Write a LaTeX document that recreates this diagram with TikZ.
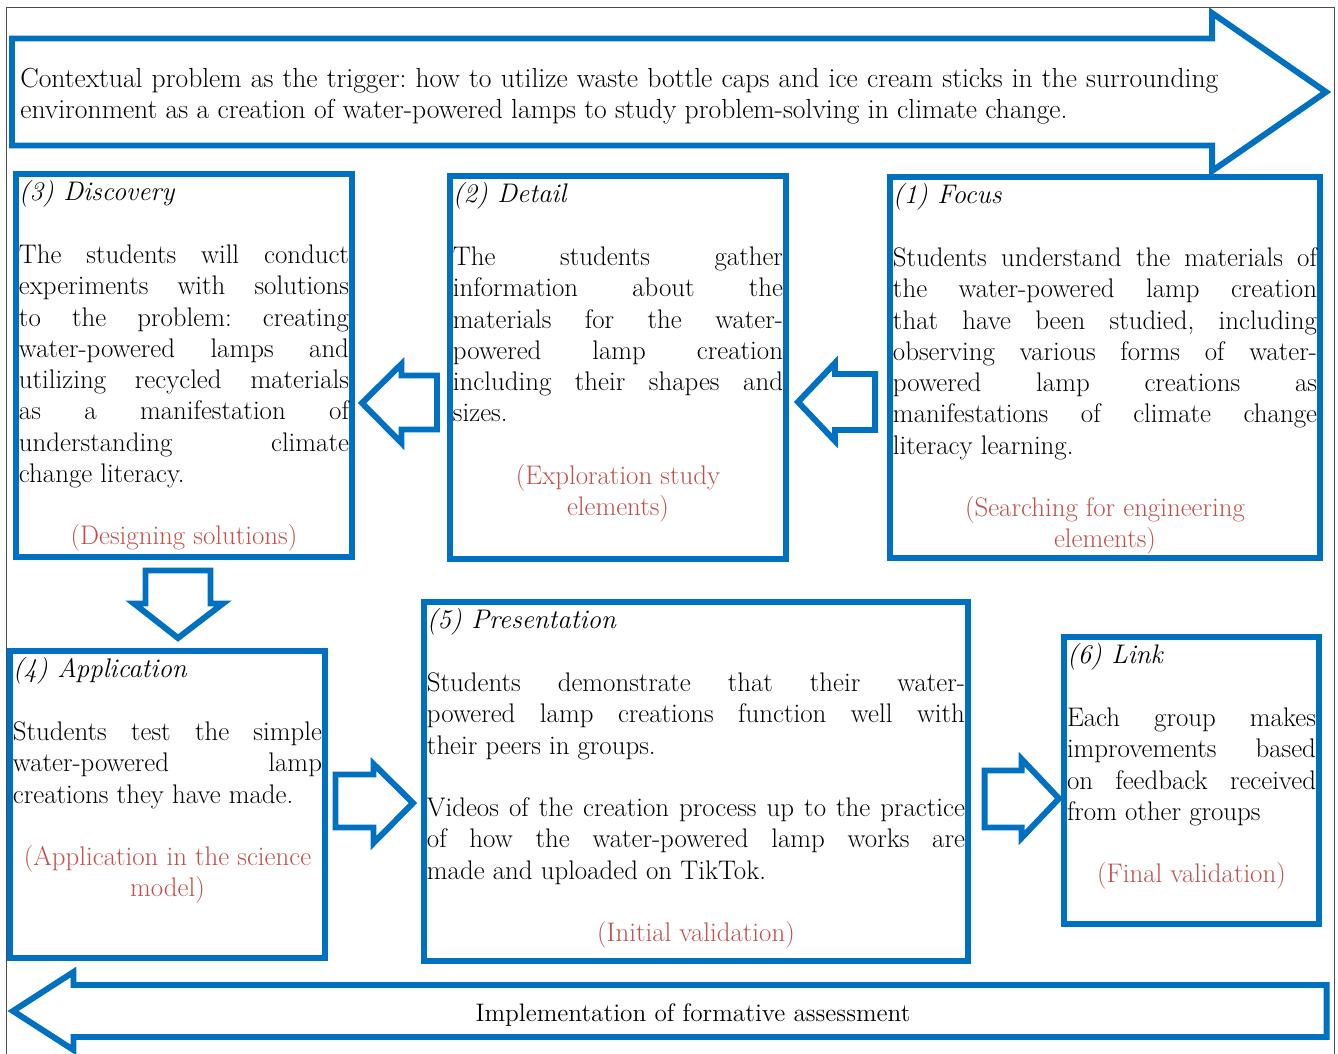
\documentclass[tikz,border=0pt]{standalone}
\usepackage{tikz}
\usetikzlibrary{shapes}
\usepackage{xcolor}

\definecolor{boxblue}{RGB}{0,112,192}
\definecolor{labelred}{RGB}{192,80,77}

\newlength{\px}
\setlength{\px}{0.02cm}
\frenchspacing

% width, height, title, body, label
\newcommand{\stagetext}[5]{%
	\parbox[t][#2\px][t]{#1\px}{\fontsize{15.3}{17.8}\selectfont
		\rule{0pt}{24\px}\textit{#3}\par\vspace{\baselineskip}
		#4\par\vspace{\baselineskip}
		{\centering\color{labelred}#5\par}}}

\tikzset{
	stage/.style = {draw = boxblue,
					line width = 3.4pt,
					inner sep = 1.7pt,
					outer sep = 0pt,
					anchor = north west},
	blockarrow/.style = {draw = boxblue,
						 fill = white,
						 line width = 3.4pt,
						 line join = miter}
}

\begin{document}
\begin{tikzpicture}[x = 0.02cm, y = -0.02cm]
	\useasboundingbox (0,0) rectangle (1338,1054);
	\draw[gray!60!black, line width = 0.5pt] (6,1054) -- (6,7) -- (1334,7) -- (1334,1054);

	% trigger arrow
	\draw[blockarrow] (12,38.5) -- (1212,38.5) -- (1212,13) -- (1326,92) -- (1212,171) -- (1212,145.5) -- (12,145.5) -- cycle;
	\draw (20,88) node[anchor = base west, inner sep = 0pt](trigger) {\parbox[t]{1198\px}{\fontsize{15.7}{17.1}\selectfont
		Contextual problem as the trigger: how to utilize waste bottle caps and ice cream sticks in the surrounding\linebreak
		environment as a creation of water-powered lamps to study problem-solving in climate change.}};

	% stages
	\draw (890,177) node[stage](focus) {\stagetext{424}{375}{(1) Focus}
		{Students understand the materials of\linebreak the water-powered lamp creation\linebreak that have been studied, including\linebreak observing various forms of water-\linebreak powered lamp creations as\linebreak manifestations of climate change\linebreak literacy learning.}
		{(Searching for engineering\\ elements)}};
	\draw (450,176) node[stage](detail) {\stagetext{330}{377}{(2) Detail}
		{The students gather\linebreak information about the\linebreak materials for the water-\linebreak powered lamp creation\linebreak including their shapes and\linebreak sizes.}
		{(Exploration study\\ elements)}};
	\draw (16,174) node[stage](discovery) {\stagetext{330}{377}{(3) Discovery}
		{The students will conduct\linebreak experiments with solutions\linebreak to the problem: creating\linebreak water-powered lamps and\linebreak utilizing recycled materials\linebreak as a manifestation of\linebreak understanding climate\linebreak change literacy.}
		{(Designing solutions)}};
	\draw (10,651) node[stage](application) {\stagetext{309}{301}{(4) Application}
		{Students test the simple\linebreak water-powered lamp\linebreak creations they have made.}
		{(Application in the science\\ model)}};
	\draw (424,602) node[stage](presentation) {\stagetext{538}{353}{(5) Presentation}
		{Students demonstrate that their water-\linebreak powered lamp creations function well with\linebreak their peers in groups.\par\vspace{\baselineskip}
		 Videos of the creation process up to the practice\linebreak of how the water-powered lamp works are\linebreak made and uploaded on TikTok.}
		{(Initial validation)}};
	\draw (1064,637) node[stage](link) {\stagetext{249}{281}{(6) Link}
		{Each group makes\linebreak improvements based\linebreak on feedback received\linebreak from other groups}
		{(Final validation)}};

	% flow arrows
	\draw[blockarrow] (875,374) -- (835,374) -- (835,363) -- (798,402) -- (835,441) -- (835,430) -- (875,430) -- cycle;
	\draw[blockarrow] (437,375.5) -- (401.5,375.5) -- (401.5,364) -- (362,403) -- (401.5,443) -- (401.5,429.5) -- (437,429.5) -- cycle;
	\draw[blockarrow] (145.5,570.5) -- (210.5,570.5) -- (210.5,603.5) -- (223,603.5) -- (178,638) -- (134,603.5) -- (145.5,603.5) -- cycle;
	\draw[blockarrow] (335.5,774.5) -- (373.5,774.5) -- (373.5,764) -- (413,803) -- (373.5,843) -- (373.5,827.5) -- (335.5,827.5) -- cycle;
	\draw[blockarrow] (984.5,770.5) -- (1021.5,770.5) -- (1021.5,759) -- (1059,798.5) -- (1021.5,838) -- (1021.5,827.5) -- (984.5,827.5) -- cycle;

	% assessment arrow
	\draw[blockarrow] (1326.5,985) -- (73.5,985) -- (73.5,972) -- (13,1011) -- (73.5,1050) -- (73.5,1037) -- (1326.5,1037) -- cycle;
	\draw (693,1021) node[anchor = base, inner sep = 0pt](formative) {\fontsize{14.4}{17.1}\selectfont Implementation of formative assessment};
\end{tikzpicture}
\end{document}
